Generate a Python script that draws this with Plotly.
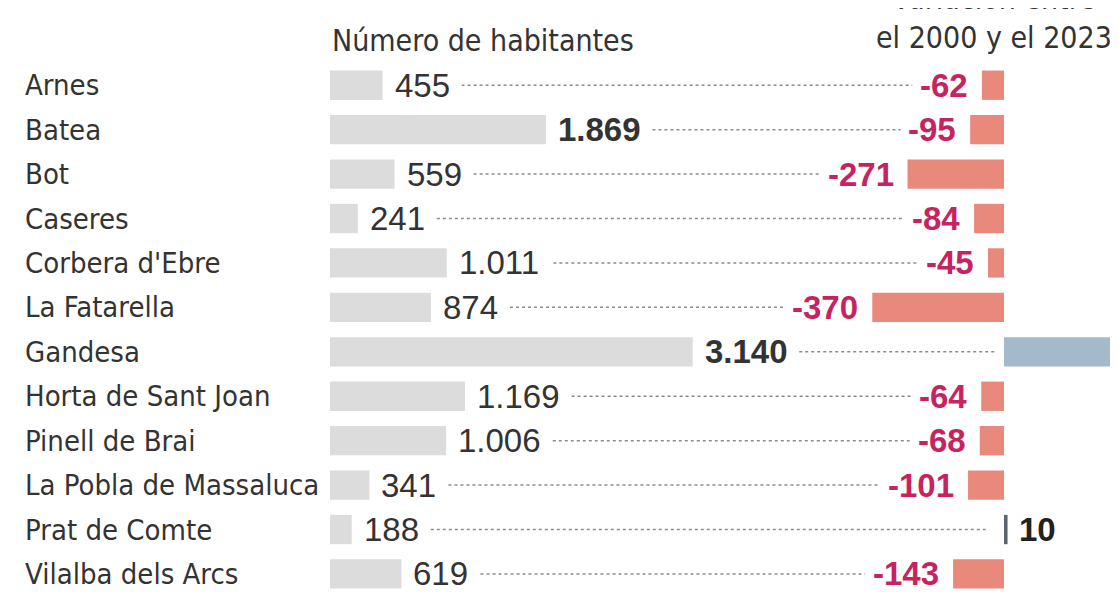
import plotly.graph_objects as go

municipios = ["Arnes", "Batea", "Bot", "Caseres", "Corbera d'Ebre", "La Fatarella", "Gandesa",
              "Horta de Sant Joan", "Pinell de Brai", "La Pobla de Massaluca", "Prat de Comte",
              "Vilalba dels Arcs"]
habitantes = [455, 1869, 559, 241, 1011, 874, 3140, 1169, 1006, 341, 188, 619]
variacion = [-62, -95, -271, -84, -45, -370, 400, -64, -68, -101, 10, -143]
destacados = ["Batea", "Gandesa"]

W, H = 1118, 592
OFF = 8  # page body margin of the browser
LABEL_FONT = "DejaVu Sans Condensed, DejaVu Sans, sans-serif"
NUM_FONT = "Liberation Sans, Arial, sans-serif"

# pixel layout (figure pixels)
POP0, POPK = 330 - OFF, 0.1155     # px of zero, px per inhabitant
VAR0, VARK = 1004 - OFF, 0.356     # px of zero, px per unit of variation
ROW0, ROWSTEP = 85 - OFF, 44.45
T = ROW0 - ROWSTEP / 2
NUMSIZE = 33


def fmt(v):
    return f"{v:,}".replace(",", ".")


def est_w(s):
    w = 0
    for ch in s:
        w += 0.278 if ch == "." else (0.333 if ch == "-" else 0.556)
    return w * NUMSIZE


ys = list(range(len(municipios)))
plot_h = H - T
y_bottom = -0.5 + plot_h / ROWSTEP

fig = go.Figure()
fig.add_trace(go.Bar(y=ys, x=habitantes, orientation="h", marker_color="#dcdcdc",
                     marker_line_width=0, width=0.66, xaxis="x", yaxis="y", hoverinfo="skip"))
fig.add_trace(go.Bar(y=ys, x=variacion, orientation="h",
                     marker_color=["#e8897c" if v < 0 else ("#a5b9cd" if v > 50 else "#5d6670") for v in variacion],
                     marker_line_width=0, width=0.66, xaxis="x2", yaxis="y", hoverinfo="skip"))

ann = []
shapes = []
for i, (m, p, v) in enumerate(zip(municipios, habitantes, variacion)):
    bold = m in destacados
    ann.append(dict(x=(23 - OFF) / W, xref="paper", y=i, yref="y", text=m, showarrow=False,
                    xanchor="left", yanchor="middle", font=dict(family=LABEL_FONT, size=29, color="#333")))
    ptxt = f"<b>{fmt(p)}</b>" if bold else fmt(p)
    ann.append(dict(x=p, xref="x", y=i, yref="y", text=ptxt, showarrow=False, xshift=10,
                    xanchor="left", yanchor="middle", font=dict(family=NUM_FONT, size=NUMSIZE, color="#333")))
    start = POP0 + p * POPK + 10 + est_w(fmt(p)) + 14
    if v < 0:
        ann.append(dict(x=v, xref="x2", y=i, yref="y", text=f"<b>{v}</b>", showarrow=False, xshift=-12,
                        xanchor="right", yanchor="middle",
                        font=dict(family=NUM_FONT, size=NUMSIZE, color="#c62460")))
        end = VAR0 + v * VARK - 12 - est_w(str(v)) - 10
    else:
        if VAR0 + v * VARK < W:
            ann.append(dict(x=v, xref="x2", y=i, yref="y", text=f"<b>{v}</b>", showarrow=False, xshift=9,
                            xanchor="left", yanchor="middle",
                            font=dict(family=NUM_FONT, size=NUMSIZE, color="#222")))
            end = VAR0 - 18
        else:
            end = VAR0 - 9
    shapes.append(dict(type="line", xref="paper", yref="y", x0=start / W, x1=end / W, y0=i, y1=i,
                       line=dict(color="#8c8c8c", width=1.5, dash="dot")))

ann.append(dict(x=(330 - OFF) / W, xref="paper", y=1 + (T - (40 - OFF)) / plot_h, yref="paper",
                text="Número de habitantes", showarrow=False, xanchor="left", yanchor="middle",
                font=dict(family=LABEL_FONT, size=30, color="#333")))
ann.append(dict(x=(1114 - OFF) / W, xref="paper", y=1 + (T - (38 - OFF)) / plot_h, yref="paper",
                text="Variación entre<br>el 2000 y el 2023", showarrow=False, xanchor="right",
                yanchor="bottom", yshift=-19, align="center",
                font=dict(family=LABEL_FONT, size=30, color="#333")))

fig.update_layout(
    width=W, height=H, margin=dict(l=0, r=0, t=T, b=0, pad=0),
    paper_bgcolor="white", plot_bgcolor="white", showlegend=False, barmode="overlay",
    xaxis=dict(range=[-POP0 / POPK, (W - POP0) / POPK], visible=False, fixedrange=True),
    xaxis2=dict(range=[-VAR0 / VARK, (W - VAR0) / VARK], overlaying="x", visible=False, fixedrange=True),
    yaxis=dict(range=[y_bottom, -0.5], visible=False, fixedrange=True),
    annotations=ann, shapes=shapes,
)
fig.write_html("out.html")
